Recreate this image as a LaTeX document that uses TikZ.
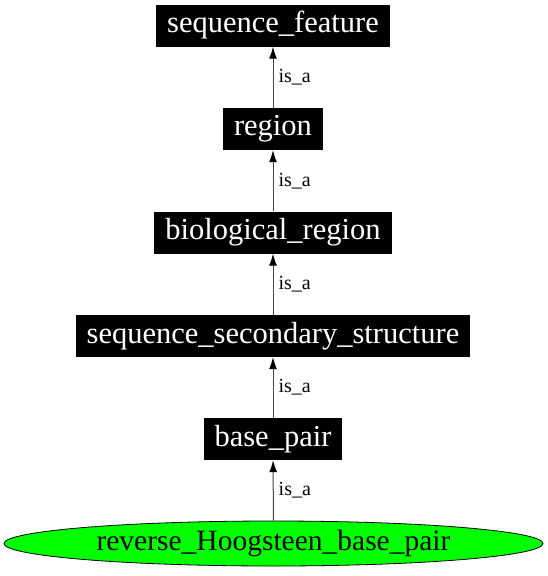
\documentclass[tikz,border=0pt]{standalone}
\usepackage{fontspec}
\setmainfont{Liberation Serif}
\usetikzlibrary{arrows.meta, shapes.geometric}
\definecolor{cgreen}{HTML}{00FF00}
\definecolor{cedge}{HTML}{444444}
\tikzset{
  every picture/.style={x=1pt, y=-1pt},
  term/.style={fill=black, text=white, font=\fontsize{30.5}{33}\selectfont, minimum height=42pt, inner xsep=11pt, inner ysep=0pt},
  leaf/.style={ellipse, draw=black, fill=cgreen, font=\fontsize{29.5}{32}\selectfont, minimum width=539pt, minimum height=45pt, inner sep=0pt, line width=0.8pt},
  isa/.style={-{Latex[length=12pt, width=8pt, color=black]}, draw=cedge, line width=1pt},
  lbl/.style={font=\fontsize{20}{22}\selectfont, anchor=west, inner sep=0pt},
}
\begin{document}
\begin{tikzpicture}
  \useasboundingbox (0,0) rectangle (548,576);
  % terms
  \node[term] (feature) at (273,25.5) {sequence\_feature};
  \node[term] (region) at (273,129) {region};
  \node[term] (bioregion) at (273,232.5) {biological\_region};
  \node[term] (secstruct) at (273,336) {sequence\_secondary\_structure};
  \node[term] (basepair) at (273,439) {base\_pair};
  \node[leaf] (hoogsteen) at (273.5,543.5) {reverse\_Hoogsteen\_base\_pair};
  % is_a edges
  \draw[isa] (region) -- node[lbl, xshift=5pt] (l1) {is\_a} (feature);
  \draw[isa] (bioregion) -- node[lbl, xshift=5pt] (l2) {is\_a} (region);
  \draw[isa] (secstruct) -- node[lbl, xshift=5pt] (l3) {is\_a} (bioregion);
  \draw[isa] (basepair) -- node[lbl, xshift=5pt] (l4) {is\_a} (secstruct);
  \draw[isa] (hoogsteen) -- node[lbl, xshift=5pt] (l5) {is\_a} (basepair);
\end{tikzpicture}
\end{document}
